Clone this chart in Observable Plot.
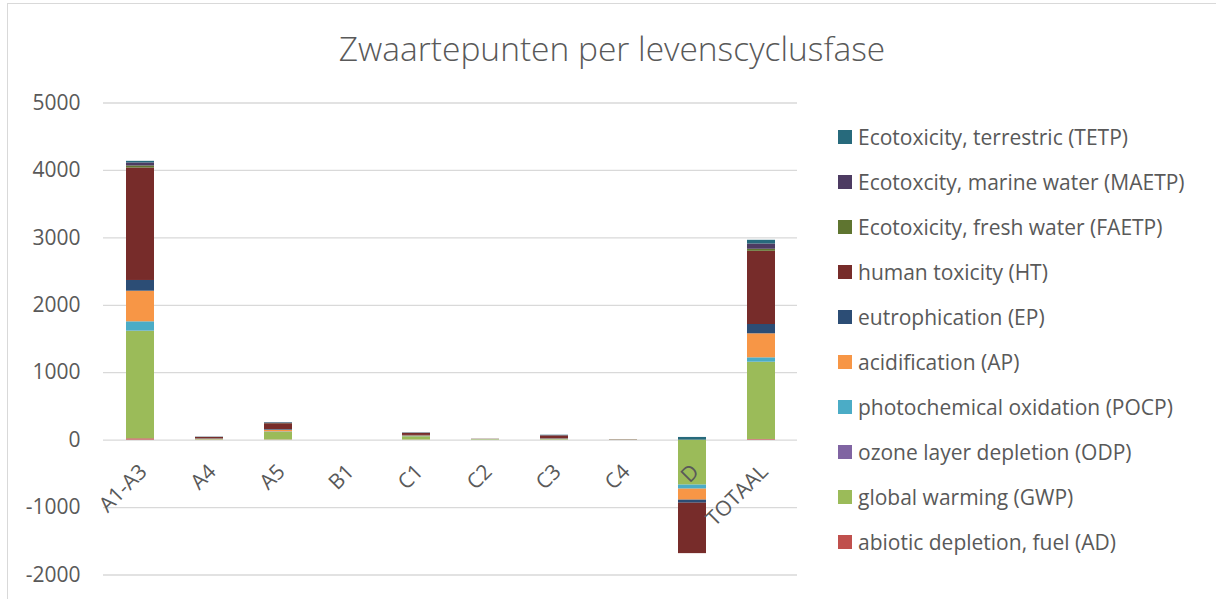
<!DOCTYPE html>
<html>
<head>
<meta charset="utf-8">
<script src="https://cdn.jsdelivr.net/npm/d3@7"></script>
<script src="https://cdn.jsdelivr.net/npm/@observablehq/plot@0.6"></script>
<style>
  html, body { margin: 0; padding: 0; background: #fff; overflow: hidden; }
  #wrap { position: relative; width: 1216px; height: 599px; overflow: hidden; font-family: "Open Sans", sans-serif; color: #595959; }
  #frame { position: absolute; left: 7px; top: 3px; width: 1400px; height: 800px; border: 1px solid #d9d9d9; box-sizing: border-box; }
  #title { position: absolute; left: 0; top: 25px; width: 1224px; text-align: center; font-size: 33.5px; font-weight: 300; line-height: 46px; color: #595959; white-space: nowrap; }
  #chart { position: absolute; left: 0; top: 0; }
  #legend { position: absolute; left: 838px; top: 0; }
  .item { position: absolute; left: 0; height: 30px; white-space: nowrap; font-size: 21px; line-height: 30px; }
  .sw { position: absolute; left: 0; top: 8px; width: 14px; height: 14px; }
  .lbl { position: absolute; left: 20px; top: 0; }
</style>
</head>
<body>
<div id="wrap">
  <div id="frame"></div>
  <div id="title">Zwaartepunten per levenscyclusfase</div>
  <div id="chart"></div>
  <div id="legend"></div>
</div>
<script>
const categories = ["A1-A3", "A4", "A5", "B1", "C1", "C2", "C3", "C4", "D", "TOTAAL"];
const seriesNames = [
  "abiotic depletion, fuel (AD)",
  "global warming (GWP)",
  "ozone layer depletion (ODP)",
  "photochemical oxidation (POCP)",
  "acidification (AP)",
  "eutrophication (EP)",
  "human toxicity (HT)",
  "Ecotoxicity, fresh water (FAETP)",
  "Ecotoxcity, marine water (MAETP)",
  "Ecotoxicity, terrestric (TETP)"
];
const seriesColors = ["#C0504D", "#9BBB59", "#8064A2", "#4BACC6", "#F79646", "#2C4D75", "#772C2A", "#5F7530", "#4D3B62", "#276A7C"];
const yTicks = [-2000, -1000, 0, 1000, 2000, 3000, 4000, 5000];

const AD    = [20,   3,  3,   0,  2, 0, 1, 0,    0,   10];
const GWP   = [1595, 8,  111, 0,  48, 8, 8, 3, -667, 1145];
const ODP   = [2,    0,  0,   0,  0,  0, 0, 0,    0,    1];
const POCP  = [138,  1,  8,   0,  3,  1, 1, 0,  -60,   65];
const AP    = [454,  3,  26,  0,  10, 2, 6, 1, -163,  356];
const EP    = [159,  4,  10,  0,  7,  1, 6, 0,  -45,  138];
const HT    = [1668, 20, 85,  0,  30, 2, 40, 3, -748, 1086];
const FAETP = [30,   1,  3,   0,  1,  0, 1, 0,    0,   30];
const MAETP = [45,   3,  8,   0,  4,  0, 5, 0,    0,   78];
const TETP  = [24,   2,  6,   0,  3,  1, 5, 1,   40,   55];

const seriesValues = [AD, GWP, ODP, POCP, AP, EP, HT, FAETP, MAETP, TETP];

const rows = [];
seriesNames.forEach((s, i) => {
  categories.forEach((c, j) => {
    rows.push({cat: c, series: s, value: seriesValues[i][j]});
  });
});

const chart = Plot.plot({
  width: 810,
  height: 599,
  marginLeft: 103,
  marginRight: 13,
  marginTop: 102.5,
  marginBottom: 24.5,
  style: {fontFamily: "'Open Sans', sans-serif", fontSize: "21px", color: "#595959", background: "transparent", overflow: "visible"},
  x: {domain: categories, axis: null, paddingInner: 0.6, paddingOuter: 0.3},
  y: {domain: [-2000, 5000], ticks: yTicks, tickSize: 0, tickPadding: 23, label: null, tickFormat: d => String(d)},
  color: {domain: seriesNames, range: seriesColors},
  marks: [
    Plot.ruleY(yTicks, {stroke: "#d9d9d9", strokeWidth: 1.3}),
    Plot.barY(rows, {x: "cat", y: "value", fill: "series", order: seriesNames}),
    Plot.text(categories, {x: d => d, y: d => 0, text: d => d, rotate: -45, textAnchor: "end", dx: 3, dy: 28, fill: "#595959", fontSize: 21})
  ]
});
document.getElementById("chart").appendChild(chart);

const legend = document.getElementById("legend");
const order = seriesNames.slice().reverse();
const revColors = seriesColors.slice().reverse();
order.forEach((s, i) => {
  const item = document.createElement("div");
  item.className = "item";
  item.style.top = (137 + 45 * i - 15) + "px";
  const sw = document.createElement("div");
  sw.className = "sw";
  sw.style.background = revColors[i];
  const lbl = document.createElement("div");
  lbl.className = "lbl";
  lbl.textContent = s;
  item.appendChild(sw);
  item.appendChild(lbl);
  legend.appendChild(item);
});
</script>
</body>
</html>
